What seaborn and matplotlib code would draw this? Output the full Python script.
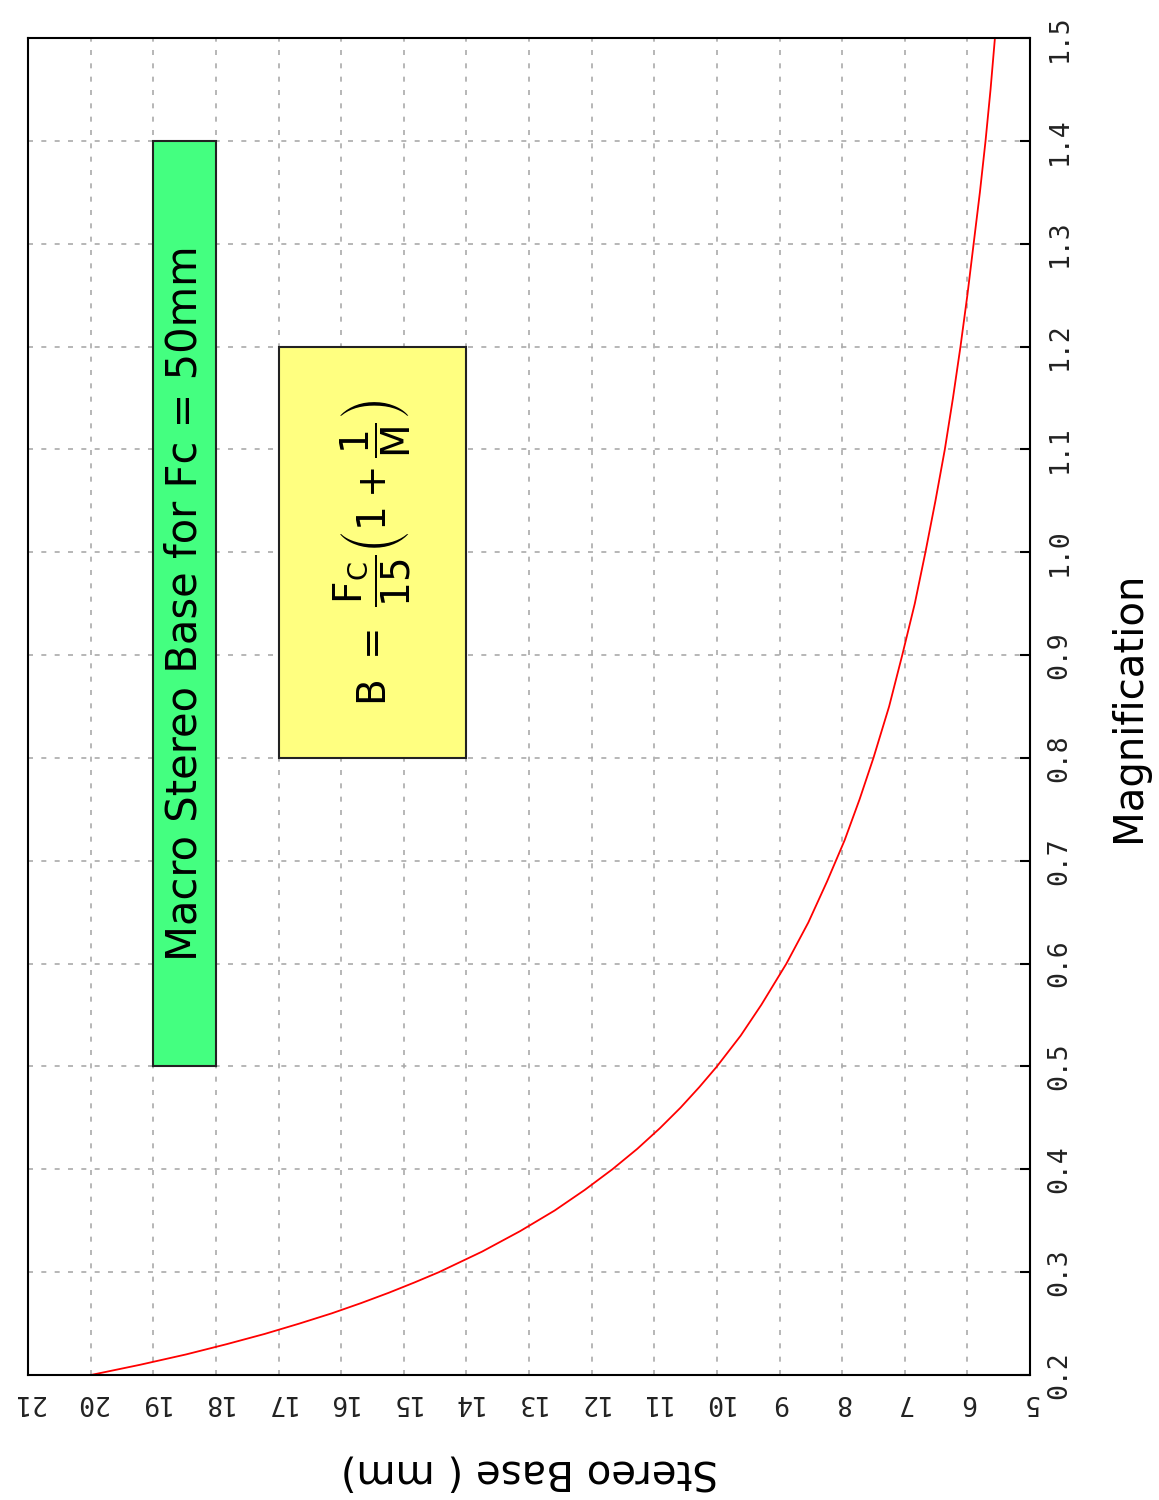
import matplotlib
matplotlib.use("Agg")
import matplotlib.pyplot as plt
import seaborn as sns
import pandas as pd
from matplotlib.patches import Rectangle

# Curve (magnification vs stereo base in mm)
magnification = [0.20, 0.21, 0.22, 0.23, 0.24, 0.25, 0.26, 0.27, 0.28, 0.29, 0.30,
                 0.32, 0.34, 0.36, 0.38, 0.40, 0.42, 0.44, 0.46, 0.48, 0.50,
                 0.53, 0.56, 0.60, 0.64, 0.68, 0.72, 0.76, 0.80, 0.85, 0.90,
                 0.95, 1.00, 1.05, 1.10, 1.15, 1.20, 1.25, 1.30, 1.35, 1.40, 1.45, 1.50]
stereo_base = [20.00, 19.21, 18.48, 17.83, 17.22, 16.67, 16.15, 15.68, 15.24, 14.83, 14.44,
               13.75, 13.14, 12.59, 12.11, 11.67, 11.27, 10.91, 10.58, 10.28, 10.00,
               9.62, 9.29, 8.89, 8.54, 8.24, 7.96, 7.72, 7.50, 7.25, 7.04,
               6.84, 6.67, 6.51, 6.36, 6.23, 6.11, 6.00, 5.90, 5.80, 5.71, 5.63, 5.56]

base_ticks = list(range(21, 4, -1))
mag_ticks = [0.2, 0.3, 0.4, 0.5, 0.6, 0.7, 0.8, 0.9, 1.0, 1.1, 1.2, 1.3, 1.4, 1.5]

title_text = "Macro Stereo Base for Fc = 50mm"
formula_text = r"$\mathsf{B\ =\ \dfrac{F_C}{15}\left(1+\dfrac{1}{M}\right)}$"

df = pd.DataFrame({"base": stereo_base, "mag": magnification})

sns.set_style("white")
fig = plt.figure(figsize=(11.59, 15), dpi=100)
ax = fig.add_axes([0.0242, 0.0833, 0.8645, 0.8914])

sns.lineplot(data=df, x="base", y="mag", sort=False, estimator=None,
             color="red", linewidth=1.3, ax=ax)

ax.set_xlim(21, 5)
ax.set_ylim(0.2, 1.5)
ax.set_xticks(base_ticks)
ax.set_xticklabels([str(t) for t in base_ticks], rotation=180,
                   family="DejaVu Sans Mono", fontsize=19, color="#222222")
ax.set_yticks(mag_ticks)
ax.set_yticklabels(["%.1f" % t for t in mag_ticks], rotation=90, va="center",
                   family="DejaVu Sans Mono", fontsize=19, color="#222222")
ax.yaxis.tick_right()
ax.tick_params(axis="both", direction="in", length=7, width=1.5, color="black")
ax.tick_params(axis="x", pad=10)
ax.tick_params(axis="y", pad=12)

ax.grid(True, color="#aaaaaa", linestyle=(0, (3, 5)), linewidth=1.2)
for s in ax.spines.values():
    s.set_color("black")
    s.set_linewidth(1.5)

ax.set_xlabel("Stereo Base ( mm)", rotation=180, fontsize=29, labelpad=26,
              color="black")
ax.yaxis.set_label_position("right")
ax.set_ylabel("Magnification", rotation=90, fontsize=29, labelpad=26,
              color="black")

# annotation boxes
ax.add_patch(Rectangle((19, 0.5), -1, 0.9, facecolor="#44ff80",
                       edgecolor="#222222", linewidth=1.5, zorder=3))
ax.text(18.5, 0.95, title_text, rotation=90, ha="center", va="center",
        fontsize=30, color="black", zorder=4)

ax.add_patch(Rectangle((17, 0.8), -3, 0.4, facecolor="#ffff80",
                       edgecolor="#222222", linewidth=1.5, zorder=3))
ax.text(15.5, 1.0, formula_text, rotation=90, ha="center", va="center",
        fontsize=28, color="black", zorder=4)

fig.savefig("out.png", dpi=100, facecolor="white")
